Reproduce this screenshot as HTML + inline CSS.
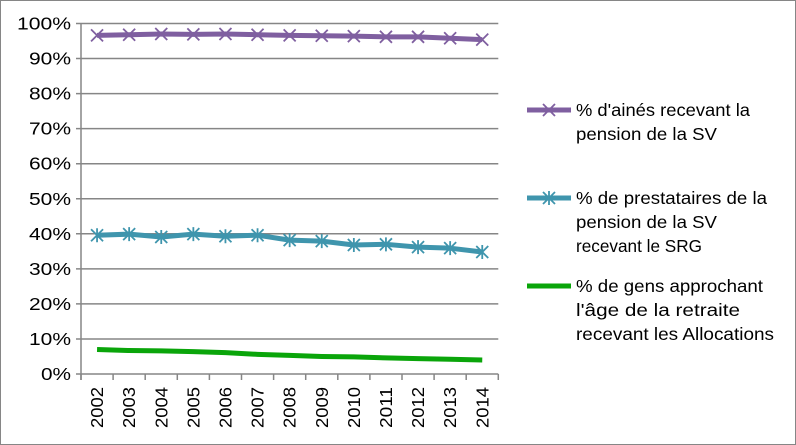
<!DOCTYPE html>
<html><head><meta charset="utf-8"><style>
html,body{margin:0;padding:0;background:#fff}
svg{display:block;font-family:"Liberation Sans",sans-serif}
</style></head><body>
<svg width="796" height="445">
<rect x="0.5" y="0.5" width="795" height="444" fill="#fff" stroke="#868686"/>
<g id="grid"></g><g id="axes"></g><g id="series"></g><g id="legend"></g>
</svg>
<script>
const categories=["2002","2003","2004","2005","2006","2007","2008","2009","2010","2011","2012","2013","2014"];
const seniorsSV=[96.6,96.8,97,96.9,97,96.8,96.6,96.5,96.4,96.2,96.2,95.8,95.4];
const svSRG=[39.6,39.9,39.1,39.9,39.3,39.6,38.2,37.9,36.8,37.0,36.2,35.9,34.8];
const allocations=[7.0,6.7,6.6,6.4,6.1,5.6,5.3,5.0,4.9,4.6,4.4,4.2,4.0];
const yTicks=[0,10,20,30,40,50,60,70,80,90,100];
const legendLabels=[["% d'ainés recevant la","pension de la SV"],["% de prestataires de la","pension de la SV","recevant le SRG"],["% de gens approchant","l'âge de la retraite","recevant les Allocations"]];
const NS="http://www.w3.org/2000/svg";
const X0=81,CW=32.1,Y0=374,YH=350.5;
const xs=i=>X0+CW*(i+0.5), ys=v=>Y0-v/100*YH;
function mk(t,a,p){const e=document.createElementNS(NS,t);for(const k in a)e.setAttribute(k,a[k]);p.appendChild(e);return e;}
const grid=document.getElementById('grid'),axes=document.getElementById('axes'),ser=document.getElementById('series'),leg=document.getElementById('legend');
const xEnd=X0+CW*categories.length;
yTicks.forEach(v=>{
 const l=mk('line',{x1:X0-5,x2:xEnd,y1:ys(v),y2:ys(v),stroke:'#868686','stroke-width':1.5},grid);
 
 
 const t=mk('text',{x:X0-10,y:ys(v)+6,'text-anchor':'end','font-size':17.5,'textLength':v===100?54:(v===0?30:42),lengthAdjust:'spacingAndGlyphs',fill:'#000'},axes);
 t.textContent=v+'%';
 
 
});
const ax=mk('line',{x1:X0,x2:X0,y1:ys(100),y2:Y0+6,stroke:'#868686','stroke-width':1.5},axes);


for(let i=0;i<=categories.length;i++){const tk=mk('line',{x1:X0+CW*i,x2:X0+CW*i,y1:Y0,y2:Y0+6,stroke:'#868686','stroke-width':1.5},axes);
 
 }
categories.forEach((c,i)=>{
 const t=mk('text',{x:0,y:0,'font-size':17.5,fill:'#000','text-anchor':'end',textLength:41,lengthAdjust:'spacingAndGlyphs',transform:`translate(${xs(i)+6},${Y0+13}) rotate(-90)`},axes);
 t.textContent=c;
 
 
});
function xMark(g,x,y,col){mk('path',{d:`M${x-6},${y-6}L${x+6},${y+6}M${x-6},${y+6}L${x+6},${y-6}`,stroke:col,'stroke-width':1.8,fill:'none'},g);}
function starMark(g,x,y,col){mk('path',{d:`M${x-6},${y-6}L${x+6},${y+6}M${x-6},${y+6}L${x+6},${y-6}M${x},${y-7}L${x},${y+7}`,stroke:col,'stroke-width':1.8,fill:'none'},g);}
const specs=[[seniorsSV,'#7f5fa0',xMark,'series-seniors-sv'],[svSRG,'#3f95ad',starMark,'series-sv-srg'],[allocations,'#0aa50a',null,'series-allocations']];
specs.forEach(([d,col,m,name])=>{
 const g=mk('g',{},ser);
 
 
 mk('polyline',{points:d.map((v,i)=>xs(i)+','+ys(v)).join(' '),fill:'none',stroke:col,'stroke-width':5,'stroke-linejoin':'round'},g);
 if(m)d.forEach((v,i)=>m(g,xs(i),ys(v),col));
});
const ly=[110,198,286];
const legendWidths=[[174,141],[191,141,126],[187,164,198]];
specs.forEach(([d,col,m,name],k)=>{
 const g=mk('g',{},leg);
 
 
 mk('line',{x1:527,x2:571,y1:ly[k],y2:ly[k],stroke:col,'stroke-width':5},g);
 if(m)m(g,549,ly[k],col);
 legendLabels[k].forEach((s,j)=>{const t=mk('text',{x:576,y:ly[k]+6+j*24,'font-size':17.5,textLength:legendWidths[k][j],lengthAdjust:'spacingAndGlyphs',fill:'#000'},g);t.textContent=s;});
});
</script>
</body></html>
